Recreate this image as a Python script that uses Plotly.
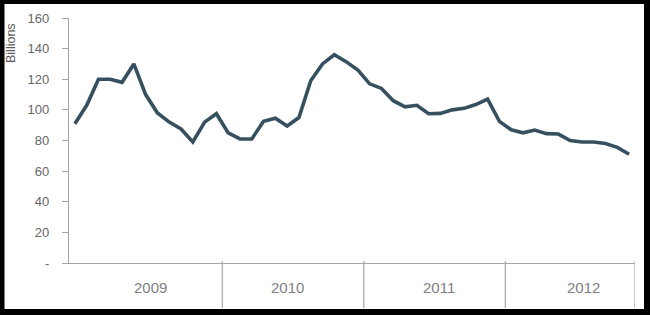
import plotly.graph_objects as go

# Data (monthly values, billions)
years = ["2009", "2010", "2011", "2012"]
months_per_year = [13, 12, 12, 11]
values = [
    91, 103, 120, 120, 118, 130, 110, 98, 92, 87.5, 79, 92, 97.5,
    85, 81, 81, 92.5, 94.5, 89.5, 95, 119, 130, 136, 131.5, 126,
    117, 114, 106, 102, 103, 97.5, 97.7, 100, 101, 103.5, 107, 92.5,
    87, 85, 86.8, 84.5, 84.2, 80, 79, 79, 78, 75.5, 71,
]
y_ticks = [0, 20, 40, 60, 80, 100, 120, 140, 160]
y_ticktext = ["-", "20", "40", "60", "80", "100", "120", "140", "160"]

x_idx = list(range(len(values)))

W, H = 650, 315
ML, MR, MT, MB = 69, 15, 18, 52
PW, PH = W - ML - MR, H - MT - MB

def px_x(p):
    return (p - ML) / PW

def px_y(p):
    return (H - MB - p) / PH

fig = go.Figure()
fig.add_trace(go.Scatter(
    x=x_idx, y=values, mode="lines",
    line=dict(color="#37505f", width=3.6),
    hoverinfo="skip", showlegend=False,
))

shapes = []
# white card inside black frame
shapes.append(dict(type="rect", xref="paper", yref="paper",
                   x0=px_x(4.5), x1=px_x(644), y0=px_y(309), y1=px_y(4),
                   fillcolor="white", line=dict(width=0), layer="below"))
# group dividers
bounds = []
acc = 0
for n in months_per_year:
    acc += n
    bounds.append(acc - 0.5)
for b in bounds:
    shapes.append(dict(type="line", xref="x", yref="paper",
                       x0=b, x1=b, y0=px_y(308), y1=px_y(261),
                       line=dict(color="#a6a6a6", width=1.2)))

year_px = [150, 287.5, 439, 583]
annotations = []
for yr, xp in zip(years, year_px):
    annotations.append(dict(text=yr, xref="paper", yref="paper",
                            x=px_x(xp), y=px_y(287), showarrow=False,
                            xanchor="center", yanchor="middle",
                            font=dict(family="Liberation Sans", size=15, color="#7f7f7f")))
annotations.append(dict(text="Billions", xref="paper", yref="paper",
                        x=px_x(11), y=px_y(43), showarrow=False, textangle=-90,
                        xanchor="center", yanchor="middle",
                        font=dict(family="Liberation Sans", size=12.5, color="#595959")))

fig.update_layout(
    width=W, height=H,
    margin=dict(l=ML, r=MR, t=MT, b=MB),
    paper_bgcolor="black", plot_bgcolor="white",
    shapes=shapes, annotations=annotations,
    xaxis=dict(range=[-0.5, len(values) - 0.5], showgrid=False, zeroline=False,
               showticklabels=False, ticks="", showline=True,
               linecolor="#a6a6a6", linewidth=1.2, fixedrange=True),
    yaxis=dict(range=[0, 160], tickvals=y_ticks, ticktext=y_ticktext,
               showgrid=False, zeroline=False, showline=True,
               linecolor="#a6a6a6", linewidth=1.2,
               ticks="outside", ticklen=6, tickcolor="#a6a6a6", tickwidth=1.2,
               ticklabelstandoff=10,
               tickfont=dict(family="Liberation Sans", size=13, color="#666666"),
               fixedrange=True),
)

fig.write_html("out.html")
